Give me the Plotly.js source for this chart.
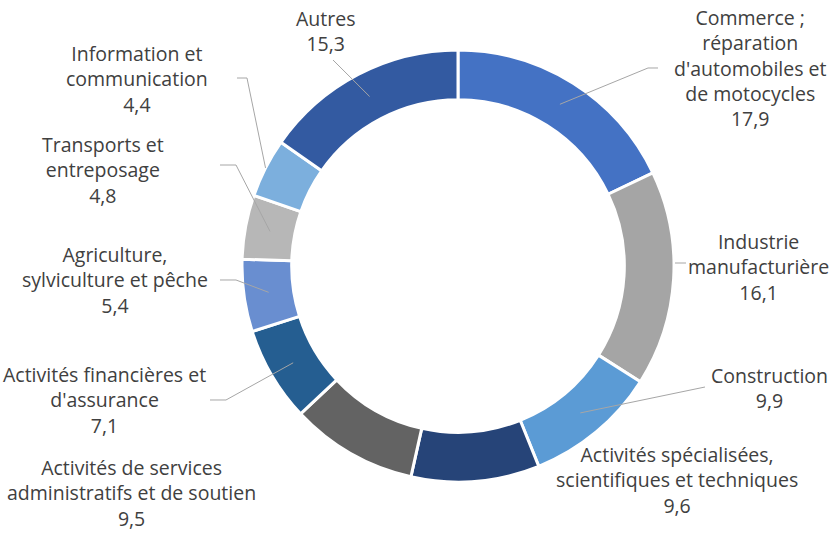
<!DOCTYPE html>
<html>
<head>
<meta charset="utf-8">
<script src="https://cdn.plot.ly/plotly-3.0.1.min.js"></script>
<style>html,body{margin:0;padding:0;background:#fff;}#chart{width:837px;height:534px;}</style>
</head>
<body>
<div id="chart"></div>
<script>
// ---- data ----
const categories = [
  "Commerce ; réparation d'automobiles et de motocycles",
  "Industrie manufacturière",
  "Construction",
  "Activités spécialisées, scientifiques et techniques",
  "Activités de services administratifs et de soutien",
  "Activités financières et d'assurance",
  "Agriculture, sylviculture et pêche",
  "Transports et entreposage",
  "Information et communication",
  "Autres"
];
const values = [17.9, 16.1, 9.9, 9.6, 9.5, 7.1, 5.4, 4.8, 4.4, 15.3];
const labelLines = [
  ["Commerce ;", "réparation", "d'automobiles et", "de motocycles"],
  ["Industrie", "manufacturière"],
  ["Construction"],
  ["Activités spécialisées,", "scientifiques et techniques"],
  ["Activités de services", "administratifs et de soutien"],
  ["Activités financières et", "d'assurance"],
  ["Agriculture,", "sylviculture et pêche"],
  ["Transports et", "entreposage"],
  ["Information et", "communication"],
  ["Autres"]
];
const colors = ["#4472C4","#A5A5A5","#5B9BD5","#264478","#636363","#255E91","#698ED0","#B7B7B7","#7CAFDD","#335AA1"];

// ---- layout (pixel geometry) ----
const W = 837, H = 534;
const CX = 458, CY = 266, R = 216, HOLE = 0.77;
// label block centres (px)
const labelPos = [[750,68],[758,267],[769,388],[677,480],[131,493],[104,400],[115,280],[103,170],[137,79],[325,31]];
// leader line: elbow points (px) and radius factor for slice end (null = no slice end)
const leaders = [
  {pts:[[658,68],[648,68]], rf:0.885},
  {pts:[[686,263],[675,263]], rf:null},
  {pts:[[705,387]], rf:0.885},
  null,
  null,
  {pts:[[210,400],[226,400]], rf:0.885},
  {pts:[[220,280],[236,280]], rf:0.885},
  {pts:[[220,165],[236,165]], rf:0.885},
  {pts:[[237,78],[247,78]], rf:1.0},
  {pts:[[333,60]], rf:0.885}
];

const px = x => x / W;
const py = y => 1 - y / H;

const total = values.reduce((a,b)=>a+b,0);
let cum = 0;
const shapes = [];
const annotations = [];
values.forEach((v,i) => {
  const mid = (cum + v/2) / total * 2 * Math.PI;
  cum += v;
  const L = leaders[i];
  if (L) {
    const pts = L.pts.slice();
    if (L.rf !== null) {
      const r = R * L.rf;
      pts.push([CX + r*Math.sin(mid), CY - r*Math.cos(mid)]);
    }
    const path = pts.map((p,k)=>(k?'L':'M')+px(p[0]).toFixed(5)+','+py(p[1]).toFixed(5)).join(' ');
    shapes.push({type:'path', xref:'paper', yref:'paper', path:path, line:{color:'#A6A6A6', width:1}});
  }
  const txt = labelLines[i].concat([v.toFixed(1).replace('.',',')]).join('<br>');
  annotations.push({
    xref:'paper', yref:'paper', x:px(labelPos[i][0]), y:py(labelPos[i][1]),
    xanchor:'center', yanchor:'middle', align:'center', showarrow:false,
    text: txt, font:{family:'Open Sans, sans-serif', size:19.5, color:'#404040'}
  });
});

const trace = {
  type:'pie', values: values, labels: categories,
  sort:false, direction:'clockwise', rotation:0, hole:HOLE,
  textinfo:'none', hoverinfo:'label+value',
  marker:{colors:colors, line:{color:'#FFFFFF', width:3}},
  domain:{x:[px(CX-R), px(CX+R)], y:[py(CY+R), py(CY-R)]}
};
const layout = {
  width:W, height:H, margin:{l:0,r:0,t:0,b:0},
  showlegend:false, paper_bgcolor:'#FFFFFF',
  shapes:shapes, annotations:annotations
};
Plotly.newPlot('chart',[trace],layout,{displayModeBar:false,staticPlot:true});
</script>
</body>
</html>
